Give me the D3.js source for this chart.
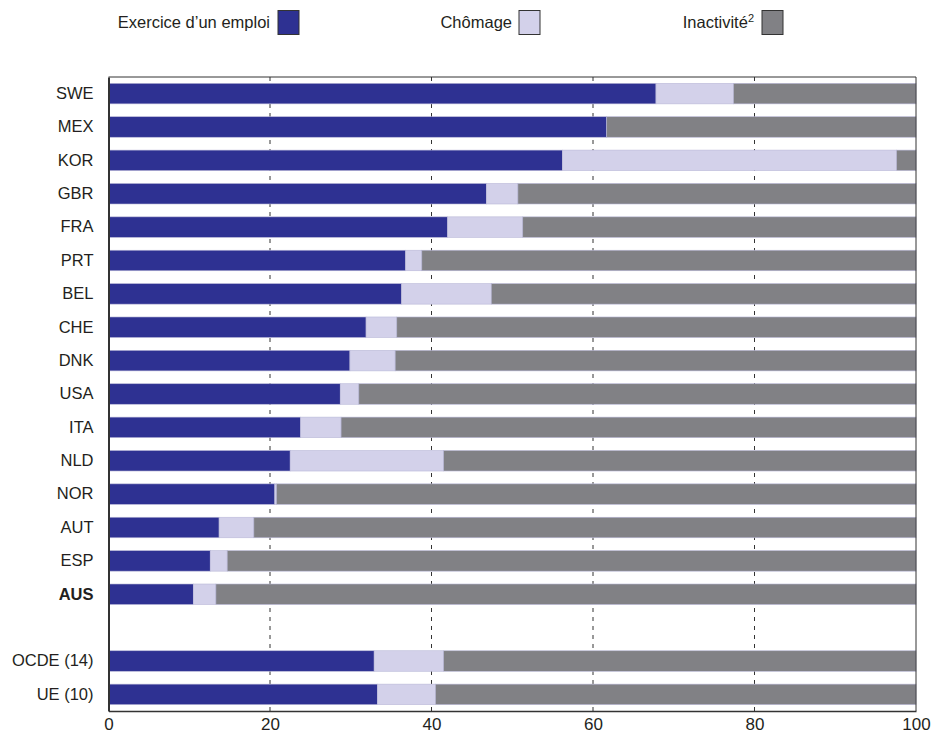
<!DOCTYPE html>
<html>
<head>
<meta charset="utf-8">
<script src="https://cdn.jsdelivr.net/npm/d3@7"></script>
<style>
  html, body { margin: 0; padding: 0; background: #fff; }
  text { font-family: "Liberation Sans", Arial, sans-serif; fill: #231f20; }
</style>
</head>
<body>
<svg id="chart" width="933" height="733"></svg>
<script>
// Country rows (top to bottom), then the two aggregates below a blank row
const countries = ["SWE", "MEX", "KOR", "GBR", "FRA", "PRT", "BEL", "CHE", "DNK", "USA", "ITA", "NLD", "NOR", "AUT", "ESP", "AUS"];
const aggregates = ["OCDE (14)", "UE (10)"];
const boldLabels = ["AUS"];

// Shares (%) : employment, unemployment; inactivity fills the rest to 100
const emploi  = [67.8, 61.7, 56.2, 46.8, 42.0, 36.8, 36.3, 31.9, 29.9, 28.7, 23.8, 22.5, 20.6, 13.7, 12.6, 10.5, 32.9, 33.3];
const chomage = [ 9.6,  0.0, 41.4,  3.9,  9.3,  2.0, 11.1,  3.8,  5.6,  2.3,  5.0, 19.0,  0.2,  4.3,  2.1,  2.8,  8.6,  7.2];

const xTicks = [0, 20, 40, 60, 80, 100];
const seriesNames = ["Exercice d\u2019un emploi", "Ch\u00f4mage", "Inactivit\u00e9"];
const colors = ["#2e3192", "#d3d1ea", "#818185"];

const svg = d3.select("#chart");
const margin = { left: 108.5, right: 916, top: 77, bottom: 711 };
const fontSize = 16.5;

const spacer = " ";
const rows = [...countries, spacer, ...aggregates];
const values = [...countries, ...aggregates].map((name, i) => ({
  name,
  segs: [emploi[i], chomage[i], Math.max(0, 100 - emploi[i] - chomage[i])]
}));

const x = d3.scaleLinear().domain([0, 100]).range([margin.left, margin.right]);
const y = d3.scaleBand().domain(rows).range([margin.top, margin.bottom])
  .paddingInner(0.385).paddingOuter(0.19);

// Dashed vertical gridlines
svg.append("g").selectAll("line")
  .data(xTicks.filter(t => t > 0 && t < 100))
  .join("line")
  .attr("x1", d => x(d)).attr("x2", d => x(d))
  .attr("y1", margin.top).attr("y2", margin.bottom)
  .attr("stroke", "#333").attr("stroke-width", 1)
  .attr("stroke-dasharray", "4,5");

// Stacked bars
const stack = d3.stack().keys([0, 1, 2]).value((d, k) => d.segs[k]);
const layers = stack(values);
svg.append("g").selectAll("g")
  .data(layers)
  .join("g")
  .attr("fill", (d, i) => colors[i])
  .selectAll("rect")
  .data(d => d.filter(p => p[1] - p[0] > 0))
  .join("rect")
  .attr("x", d => x(d[0]))
  .attr("width", d => x(d[1]) - x(d[0]))
  .attr("y", d => y(d.data.name))
  .attr("height", y.bandwidth())
  .attr("stroke", "#b9b8d8")
  .attr("stroke-width", 0.6);

// Frame: top and right thin, left and bottom heavier
svg.append("line").attr("x1", margin.left).attr("x2", margin.right)
  .attr("y1", margin.top).attr("y2", margin.top)
  .attr("stroke", "#333").attr("stroke-width", 1);
svg.append("line").attr("x1", margin.right).attr("x2", margin.right)
  .attr("y1", margin.top).attr("y2", margin.bottom)
  .attr("stroke", "#333").attr("stroke-width", 1);

// Bottom axis
const xAxis = d3.axisBottom(x).tickValues(xTicks).tickSize(0).tickPadding(7);
const gx = svg.append("g").attr("transform", `translate(0,${margin.bottom})`).call(xAxis);
gx.select(".domain").attr("stroke", "#333").attr("stroke-width", 1.5);
gx.selectAll("text").attr("font-size", 17).attr("fill", "#231f20")
  .attr("font-family", "Liberation Sans, Arial, sans-serif");

// Left axis with category labels
const yAxis = d3.axisLeft(y).tickSize(0).tickPadding(15);
const gy = svg.append("g").attr("transform", `translate(${margin.left},0)`).call(yAxis);
gy.select(".domain").attr("stroke", "#333").attr("stroke-width", 2);
gy.selectAll("text").attr("font-size", fontSize).attr("fill", "#231f20")
  .attr("font-family", "Liberation Sans, Arial, sans-serif")
  .attr("font-weight", d => boldLabels.includes(d) ? "bold" : "normal");

// Legend
const legendPos = [{ right: 270, box: 278 }, { right: 512, box: 519 }, { right: 754, box: 762 }];
const legend = svg.append("g");
seriesNames.forEach((name, i) => {
  const t = legend.append("text")
    .attr("x", legendPos[i].right).attr("y", 28)
    .attr("text-anchor", "end").attr("font-size", fontSize);
  t.append("tspan").text(name);
  if (i === 2) {
    t.append("tspan").text("2").attr("font-size", 11).attr("dy", -6);
  }
  legend.append("rect")
    .attr("x", legendPos[i].box).attr("y", 10.5)
    .attr("width", 21).attr("height", 24)
    .attr("fill", colors[i]).attr("stroke", "#333").attr("stroke-width", 1);
});
</script>
</body>
</html>
